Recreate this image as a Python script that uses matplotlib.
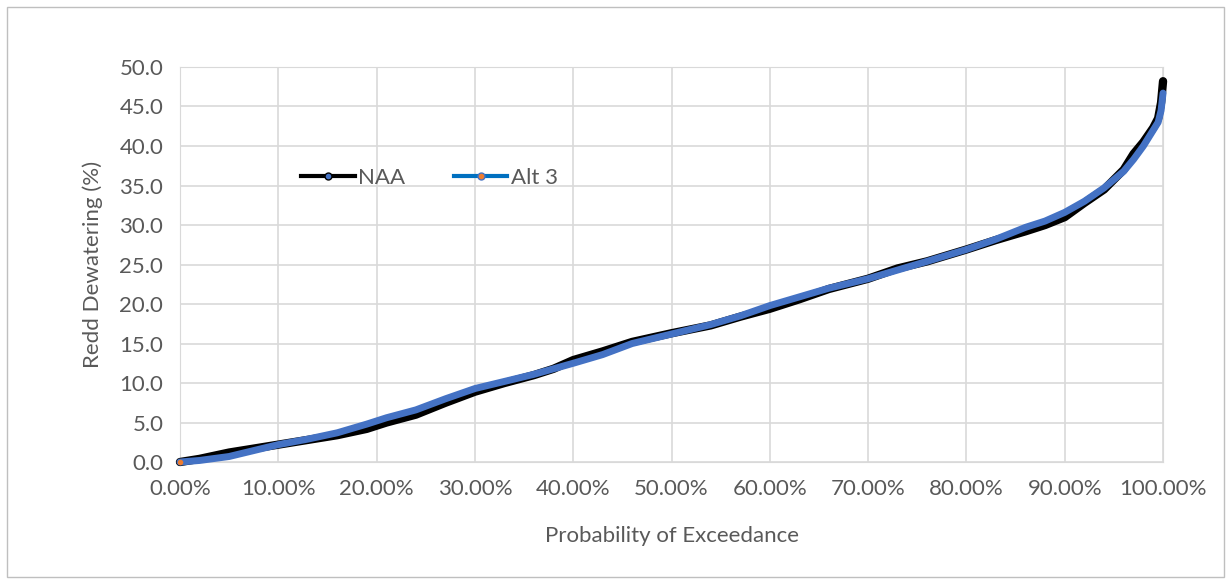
import matplotlib
matplotlib.use("Agg")
import matplotlib.pyplot as plt
from matplotlib.ticker import FuncFormatter, MultipleLocator
from matplotlib.patches import Rectangle

# probability of exceedance (fraction) and redd dewatering (%)
naa_x = [0.0, 0.02, 0.05, 0.08, 0.10, 0.13, 0.16, 0.19, 0.21, 0.24, 0.27, 0.30, 0.33,
         0.36, 0.38, 0.40, 0.43, 0.46, 0.50, 0.54, 0.57, 0.60, 0.63, 0.66, 0.70, 0.73,
         0.76, 0.80, 0.83, 0.86, 0.88, 0.90, 0.92, 0.94, 0.96, 0.97, 0.98, 0.99, 0.995,
         0.998, 1.0]
naa_y = [0.0, 0.4, 1.2, 1.8, 2.2, 2.8, 3.4, 4.2, 5.0, 6.0, 7.5, 8.9, 10.0,
         11.0, 11.8, 12.9, 14.0, 15.2, 16.3, 17.3, 18.4, 19.4, 20.6, 21.9, 23.2, 24.5,
         25.4, 26.9, 28.1, 29.2, 30.0, 31.0, 32.8, 34.5, 37.0, 39.0, 40.5, 42.3, 43.5,
         45.5, 48.2]

alt3_x = [0.0, 0.02, 0.05, 0.07, 0.10, 0.13, 0.16, 0.19, 0.21, 0.24, 0.27, 0.30, 0.33,
          0.36, 0.38, 0.40, 0.43, 0.46, 0.50, 0.54, 0.57, 0.60, 0.63, 0.66, 0.70, 0.73,
          0.76, 0.80, 0.83, 0.86, 0.88, 0.90, 0.92, 0.94, 0.96, 0.97, 0.98, 0.99, 0.995,
          0.998, 1.0]
alt3_y = [0.0, 0.2, 0.7, 1.3, 2.2, 2.9, 3.7, 4.8, 5.6, 6.6, 8.0, 9.3, 10.2,
          11.1, 11.8, 12.5, 13.6, 15.0, 16.2, 17.4, 18.5, 19.8, 20.9, 22.0, 23.2, 24.3,
          25.4, 26.9, 28.2, 29.7, 30.5, 31.6, 33.0, 34.7, 36.8, 38.3, 40.0, 42.0, 43.0,
          44.5, 46.7]

plt.rcParams['font.family'] = ['Lato', 'DejaVu Sans']
grey = '#595959'
fs = 16

fig = plt.figure(figsize=(12.31, 5.80), dpi=100)
ax = fig.add_axes([0.1462, 0.2034, 0.7986, 0.6811])

# outer chart border
fig.patches.append(Rectangle((0.006, 0.006), 0.988, 0.982, transform=fig.transFigure,
                             fill=False, edgecolor='#BFBFBF', linewidth=1))

ax.plot(naa_x, naa_y, color='black', linewidth=6, solid_capstyle='round', zorder=3, clip_on=False)
ax.plot(alt3_x, alt3_y, color='#4472C4', linewidth=5, solid_capstyle='round', zorder=4, clip_on=False)
ax.plot([0], [0], 'o', color='#ED7D31', markersize=3, zorder=5, clip_on=False)

# legend handles
h1, = ax.plot([], [], color='black', linewidth=3, marker='o', markersize=5,
              markerfacecolor='#4472C4', markeredgecolor='black')
h2, = ax.plot([], [], color='#0070C0', linewidth=3, marker='o', markersize=5,
              markerfacecolor='#ED7D31', markeredgecolor='#4472C4')
ax.legend([h1, h2], ['NAA', 'Alt 3'], ncol=2, frameon=False, loc='center left',
          bbox_to_anchor=(0.103, 0.72), fontsize=fs, labelcolor=grey,
          handlelength=2.4, handletextpad=0.15, columnspacing=2.2)

ax.set_xlim(0, 1)
ax.set_ylim(0, 50)
ax.xaxis.set_major_locator(MultipleLocator(0.1))
ax.yaxis.set_major_locator(MultipleLocator(5))
ax.xaxis.set_major_formatter(FuncFormatter(lambda v, p: '{:.2f}%'.format(v * 100)))
ax.yaxis.set_major_formatter(FuncFormatter(lambda v, p: '{:.1f}'.format(v)))
ax.grid(True, color='#D9D9D9', linewidth=1.2)
ax.set_axisbelow(True)
for s in ax.spines.values():
    s.set_color('#D9D9D9')
ax.tick_params(length=0, labelsize=fs, labelcolor=grey, pad=12)

ax.set_xlabel('Probability of Exceedance', fontsize=fs, color=grey, labelpad=20)
ax.set_ylabel('Redd Dewatering (%)', fontsize=fs, color=grey, labelpad=12)

fig.savefig('out.png', dpi=100)
